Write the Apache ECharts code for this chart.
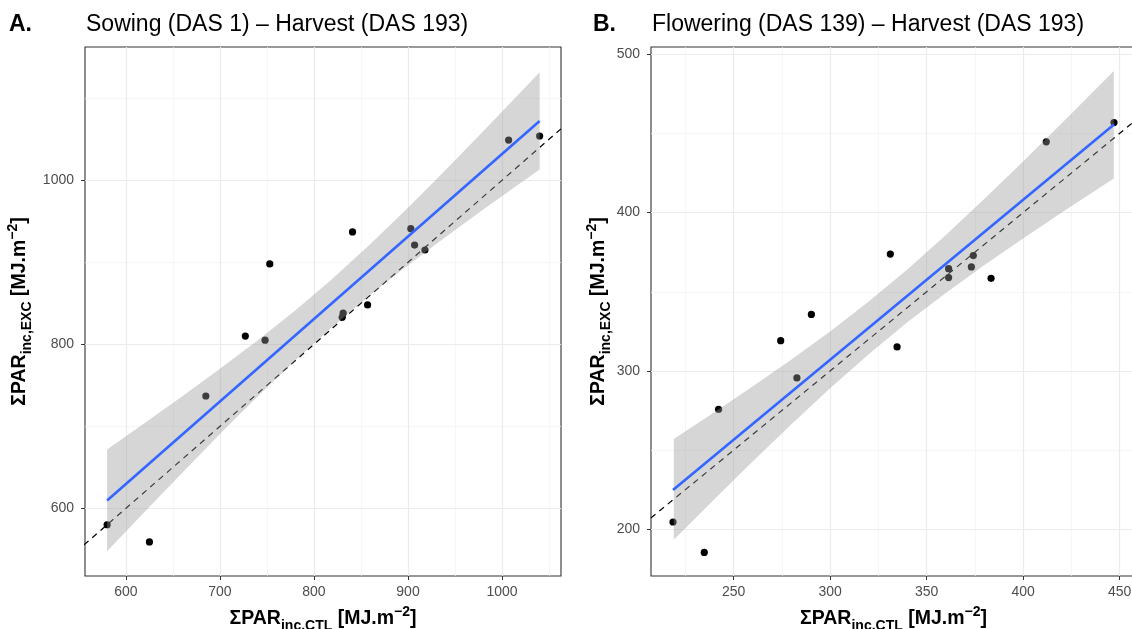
<!DOCTYPE html>
<html><head><meta charset="utf-8">
<script src="https://cdn.jsdelivr.net/npm/echarts@6/dist/echarts.min.js"></script>
<style>html,body{margin:0;padding:0;background:#fff}#c{width:1132px;height:629px}</style>
</head><body><div id="c"></div>
<script>
// ---------- Panel A: Sowing – Harvest ----------
const aX = [580,625,685,727,748,753,830,831,841,857,903,907,918,1007,1040];
const aY = [580,559,737,810,805,898,833,838,937,848,941,921,915,1049,1054];
const aFitX = [580,1040];
const aFitY = [609.6,1072.3];
const aBandX  = [580,620,660,700,740,780,817,860,900,940,980,1020,1040];
const aBandLo = [547.6,595.7,643.5,690.5,736.3,780.3,818.7,860.4,896.5,930.9,964.3,996.9,1013.0];
const aBandHi = [671.6,703.9,736.7,770.1,804.7,841.3,877.3,922.2,966.5,1012.5,1059.7,1107.5,1131.6];
const aXTicks = [600,700,800,900,1000];
const aXMinor = [650,750,850,950,1050];
const aYTicks = [600,800,1000];
const aYMinor = [700,900,1100];
const aXRange = [556.5,1062.7];
const aYRange = [517.5,1162.5];

// ---------- Panel B: Flowering – Harvest ----------
const bX = [218.6,234.8,242.2,274.4,282.8,290.3,331.2,334.7,361.4,361.4,373.2,374.2,383.4,412.0,447.1];
const bY = [204.6,185.4,275.8,319.1,295.6,335.7,373.8,315.2,364.6,359.0,365.7,372.9,358.5,444.7,456.9];
const bFitX = [218.6,447.1];
const bFitY = [224.8,455.6];
const bBandX  = [219,240,260,280,300,320,340,360,380,400,420,447];
const bBandLo = [193.4,218.9,242.9,266.4,289.1,310.6,330.7,349.3,366.9,383.7,400.0,421.6];
const bBandHi = [257.0,273.9,290.3,307.2,324.9,343.8,364.1,385.9,408.7,432.3,456.4,489.4];
const bXTicks = [250,300,350,400,450];
const bXMinor = [225,275,325,375,425];
const bYTicks = [200,300,400,500];
const bYMinor = [250,350,450];
const bXRange = [207.2,458.5];
const bYRange = [170.5,504.6];

const identity = [0,2000];
const titlesA = ['A.','Sowing (DAS 1) – Harvest (DAS 193)'];
const titlesB = ['B.','Flowering (DAS 139) – Harvest (DAS 193)'];

const FF = "'Liberation Sans', Arial, Helvetica, sans-serif";
const rich = {
  b: {fontSize:19.5, fontWeight:'bold', fontFamily:FF, color:'#000', lineHeight:28},
  s: {fontSize:14, fontWeight:'bold', fontFamily:FF, color:'#000', lineHeight:20, verticalAlign:'bottom'},
  p: {fontSize:14, fontWeight:'bold', fontFamily:FF, color:'#000', lineHeight:11, verticalAlign:'top'}
};
const xName = '{b|ΣPAR}{s|inc.CTL}{b| [MJ.m}{p|−2}{b|]}';
const yName = '{b|ΣPAR}{s|inc,EXC}{b| [MJ.m}{p|−2}{b|]}';

function gridLines(xMaj, xMin, yMaj, yMin) {
  const d = [];
  xMin.forEach(v => d.push({xAxis:v, lineStyle:{color:'#F2F2F2', width:0.7, type:'solid'}}));
  yMin.forEach(v => d.push({yAxis:v, lineStyle:{color:'#F2F2F2', width:0.7, type:'solid'}}));
  xMaj.forEach(v => d.push({xAxis:v, lineStyle:{color:'#EBEBEB', width:1.2, type:'solid'}}));
  yMaj.forEach(v => d.push({yAxis:v, lineStyle:{color:'#EBEBEB', width:1.2, type:'solid'}}));
  return d;
}

function panelSeries(gi, px, py, fx, fy, bx, lo, hi, xMaj, xMin, yMaj, yMin) {
  return [
    {type:'line', xAxisIndex:gi, yAxisIndex:gi, data:[], z:1, silent:true,
     markLine:{silent:true, z:1, symbol:['none','none'], label:{show:false}, animation:false,
       data:gridLines(xMaj, xMin, yMaj, yMin)}},
    {type:'line', xAxisIndex:gi, yAxisIndex:gi, z:2, silent:true, clip:true, showSymbol:false,
     data: identity.map(v => [v, v]),
     lineStyle:{color:'#000', width:1.2, type:[6,5]}},
    {type:'scatter', xAxisIndex:gi, yAxisIndex:gi, z:3, symbolSize:7.2, silent:true,
     itemStyle:{color:'#000', opacity:1},
     data: px.map((x,i) => [x, py[i]])},
    {type:'custom', xAxisIndex:gi, yAxisIndex:gi, z:4, silent:true,
     data:[[bx[0], lo[0]]],
     renderItem:(params, api) => {
       const pts = [];
       for (let i = 0; i < bx.length; i++) pts.push(api.coord([bx[i], hi[i]]));
       for (let i = bx.length - 1; i >= 0; i--) pts.push(api.coord([bx[i], lo[i]]));
       return {type:'polygon', shape:{points:pts}, style:{fill:'rgba(153,153,153,0.4)', stroke:null}};
     }},
    {type:'line', xAxisIndex:gi, yAxisIndex:gi, z:5, silent:true, showSymbol:false,
     data: fx.map((x,i) => [x, fy[i]]),
     lineStyle:{color:'#3366FF', width:2.6}}
  ];
}

const fmt = v => String(v);
function xAxisOf(gi, range, ticks) {
  return {type:'value', gridIndex:gi, min:range[0], max:range[1],
    splitLine:{show:false}, axisLine:{show:false},
    axisTick:{show:true, length:4, customValues:ticks, lineStyle:{color:'#333', width:1}},
    axisLabel:{customValues:ticks, formatter:fmt, fontSize:14, color:'#4D4D4D', fontFamily:FF, margin:9},
    name:xName, nameLocation:'middle', nameGap:29, nameTextStyle:{rich:rich}};
}
function yAxisOf(gi, range, ticks, gap) {
  return {type:'value', gridIndex:gi, min:range[0], max:range[1],
    splitLine:{show:false}, axisLine:{show:false},
    axisTick:{show:true, length:4, customValues:ticks, lineStyle:{color:'#333', width:1}},
    axisLabel:{customValues:ticks, formatter:fmt, fontSize:14, color:'#4D4D4D', fontFamily:FF, margin:11},
    name:yName, nameLocation:'middle', nameRotate:90, nameGap:gap, nameTextStyle:{rich:rich}};
}

const chart = echarts.init(document.getElementById('c'), null, {renderer:'canvas'});
chart.setOption({
  animation:false,
  backgroundColor:'#fff',
  title:[
    {text:titlesA[0], left:9, top:13, padding:0, textStyle:{fontSize:23, fontWeight:'bold', color:'#000', fontFamily:FF}},
    {text:titlesA[1], left:86, top:13, padding:0, textStyle:{fontSize:23, fontWeight:'normal', color:'#000', fontFamily:FF}},
    {text:titlesB[0], left:593, top:13, padding:0, textStyle:{fontSize:23, fontWeight:'bold', color:'#000', fontFamily:FF}},
    {text:titlesB[1], left:652, top:13, padding:0, textStyle:{fontSize:23, fontWeight:'normal', color:'#000', fontFamily:FF}}
  ],
  grid:[
    {left:85, top:47, width:476, height:529, outerBoundsMode:'none', containLabel:false, show:true, borderColor:'#333', borderWidth:1.1, backgroundColor:'#fff'},
    {left:651, top:47, width:485, height:529, outerBoundsMode:'none', containLabel:false, show:true, borderColor:'#333', borderWidth:1.1, backgroundColor:'#fff'}
  ],
  xAxis:[xAxisOf(0, aXRange, aXTicks), xAxisOf(1, bXRange, bXTicks)],
  yAxis:[yAxisOf(0, aYRange, aYTicks, 51), yAxisOf(1, bYRange, bYTicks, 37)],
  series:[].concat(
    panelSeries(0, aX, aY, aFitX, aFitY, aBandX, aBandLo, aBandHi, aXTicks, aXMinor, aYTicks, aYMinor),
    panelSeries(1, bX, bY, bFitX, bFitY, bBandX, bBandLo, bBandHi, bXTicks, bXMinor, bYTicks, bYMinor)
  )
});
</script></body></html>
